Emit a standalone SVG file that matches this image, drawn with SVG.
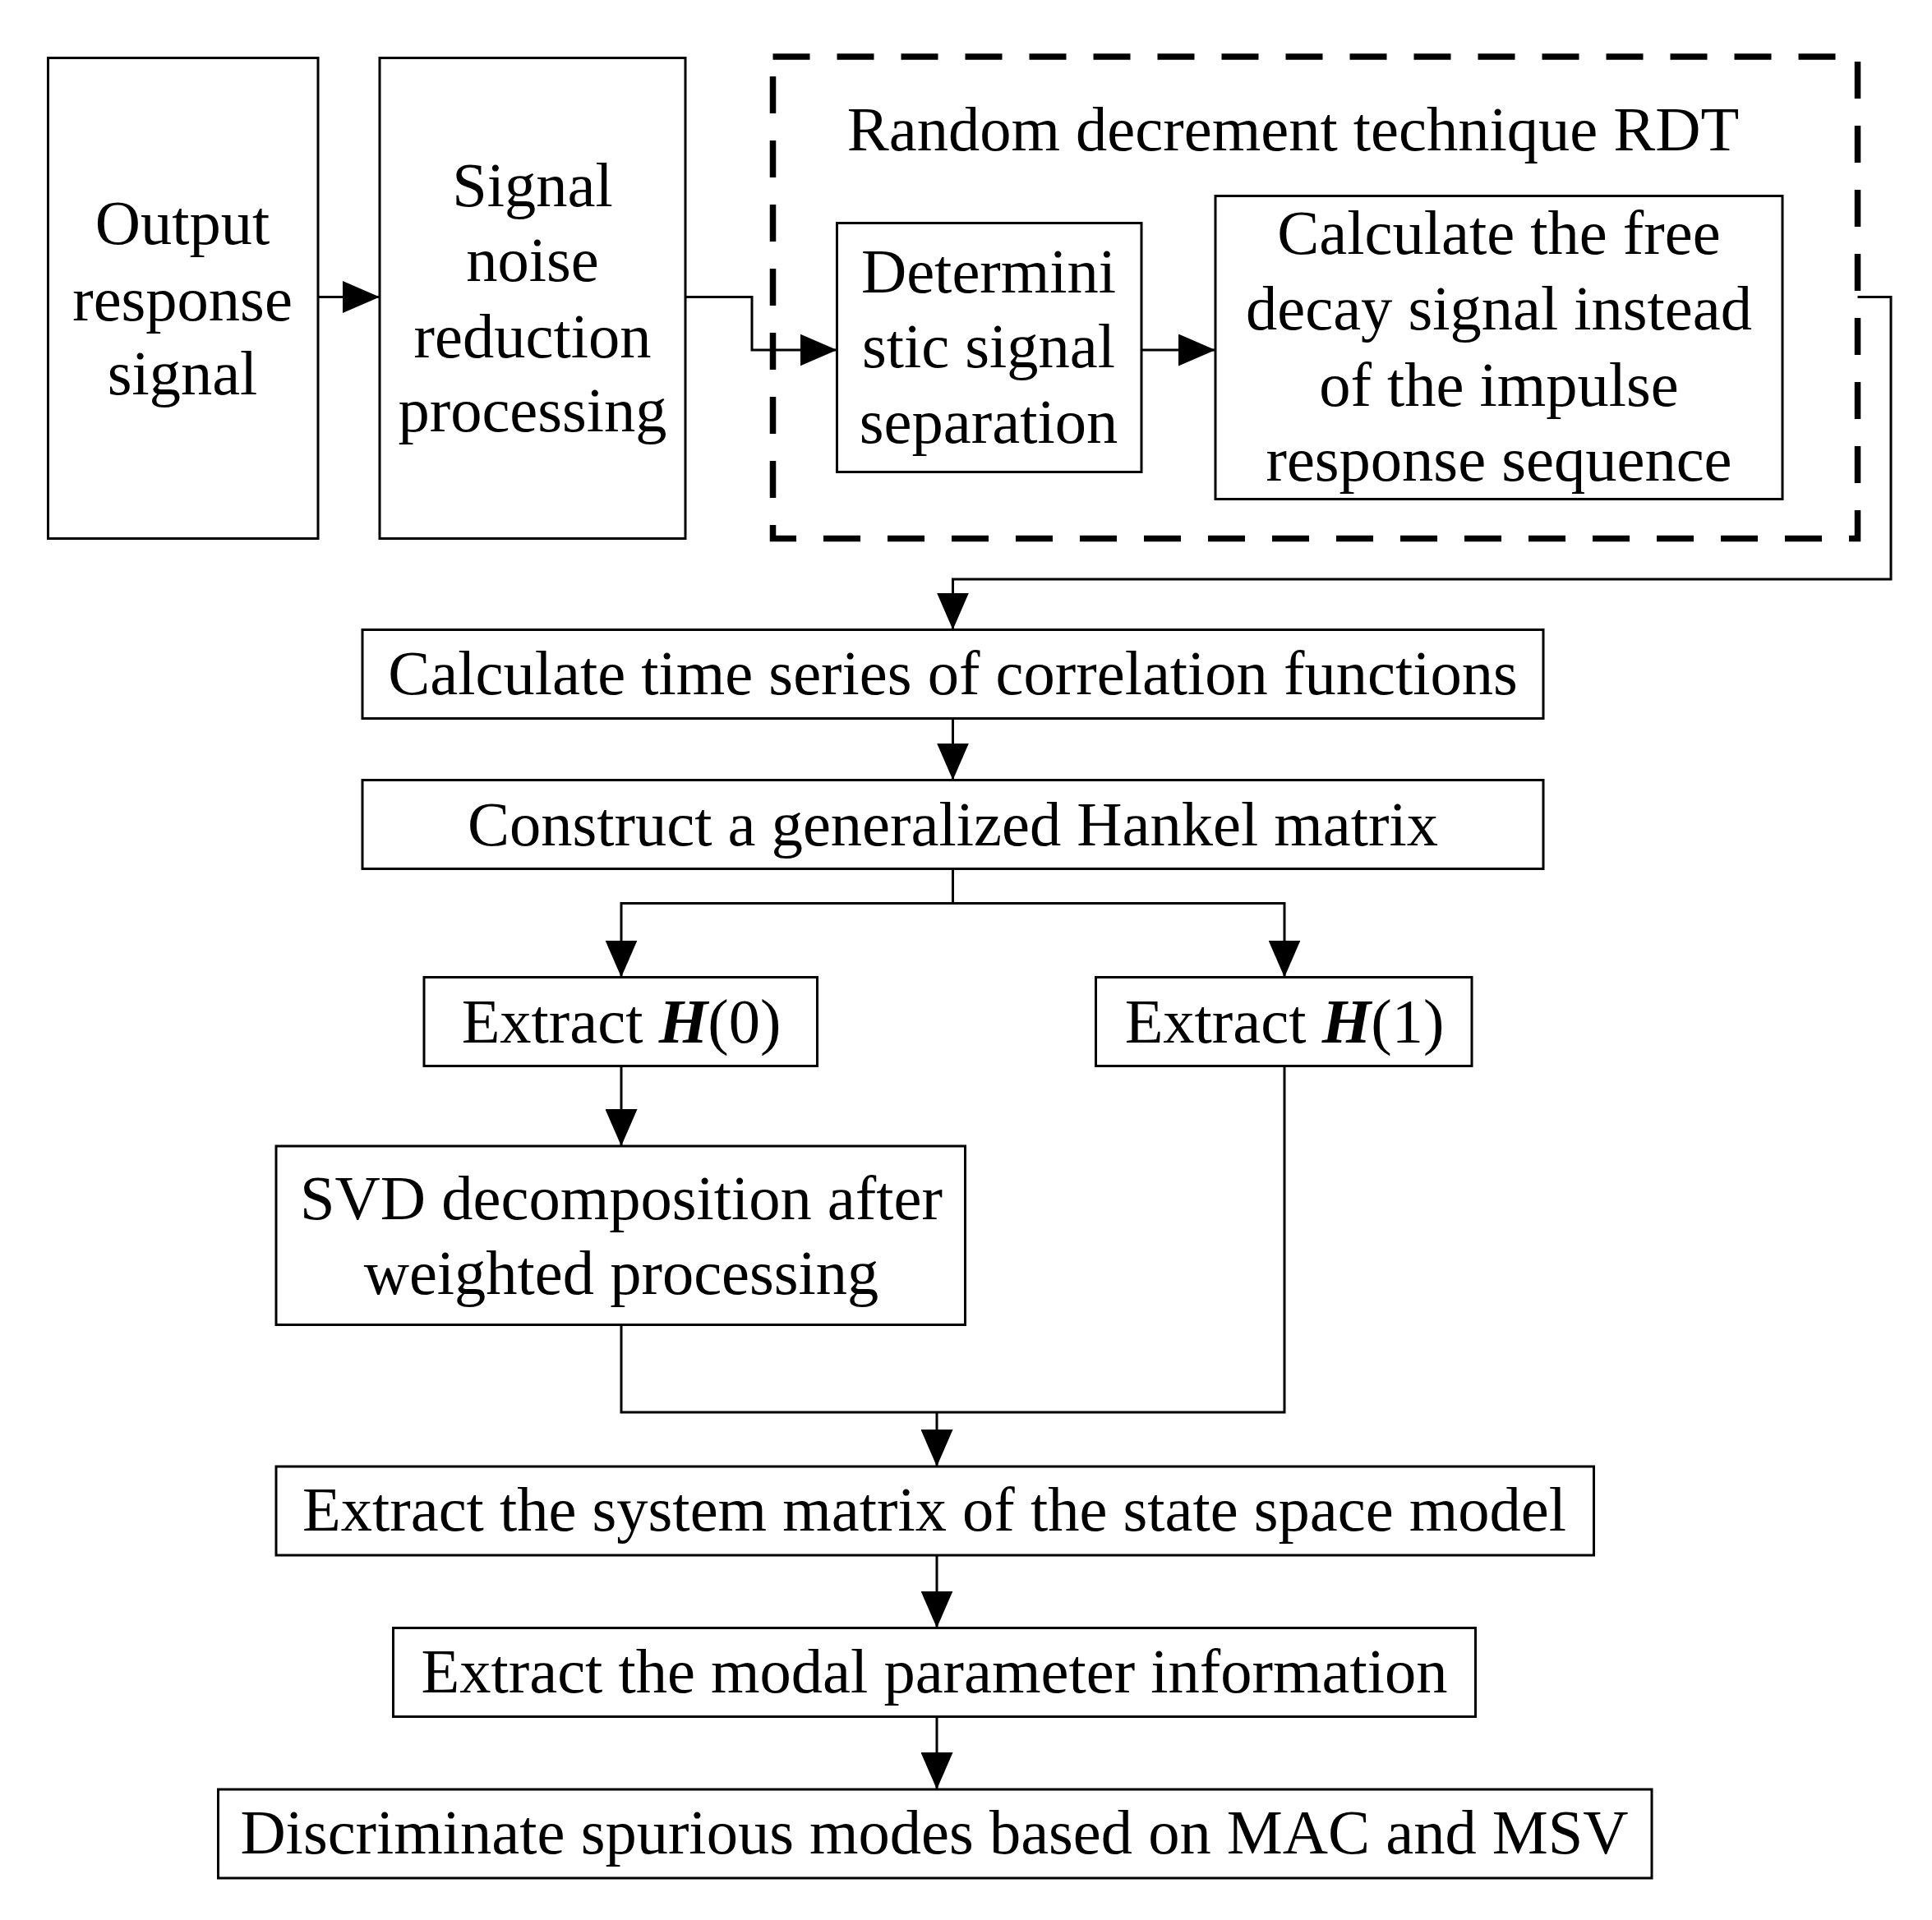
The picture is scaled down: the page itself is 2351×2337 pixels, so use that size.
<svg xmlns="http://www.w3.org/2000/svg" width="2351" height="2337" viewBox="0 0 2351 2337">
<defs>
<style>
.b{fill:#fff;stroke:#000;stroke-width:2}
.c{fill:none;stroke:#000;stroke-width:2}
text{font-family:"Liberation Serif","Times New Roman",serif;font-size:51px;text-anchor:middle;fill:#000}
</style>
<marker id="a" markerUnits="userSpaceOnUse" markerWidth="32" markerHeight="26" refX="30" refY="13" orient="auto"><path d="M0,0L30,13L0,26z" fill="#000"/></marker>
</defs>
<rect width="2351" height="2337" fill="#fff"/>
<g transform="scale(1.5)">
<g id="connectors">
<path class="c" d="M258,241H308" marker-end="url(#a)"/>
<path class="c" d="M556,241H610V284H679" marker-end="url(#a)"/>
<path class="c" d="M926,284H986" marker-end="url(#a)"/>
<path class="c" d="M1507,241H1534V470H773V511" marker-end="url(#a)"/>
<path class="c" d="M773,583V633" marker-end="url(#a)"/>
<path class="c" d="M773,705V733H504V793" marker-end="url(#a)"/>
<path class="c" d="M773,733H1042V793" marker-end="url(#a)"/>
<path class="c" d="M504,865V930" marker-end="url(#a)"/>
<path class="c" d="M504,1075V1146H1042V865"/>
<path class="c" d="M760,1146V1190" marker-end="url(#a)"/>
<path class="c" d="M760,1262V1321" marker-end="url(#a)"/>
<path class="c" d="M760,1393V1452" marker-end="url(#a)"/>
</g>
<g id="rdt"><rect x="627" y="46" width="880" height="391" fill="none" stroke="#000" stroke-width="5" stroke-dasharray="30,22"/>
<text x="1049" y="122">Random decrement technique RDT</text></g>
<g id="n1"><rect class="b" x="39" y="47" width="219" height="390"/><text x="148" y="198">Output</text><text x="148" y="260">response</text><text x="148" y="320">signal</text></g>
<g id="n2"><rect class="b" x="308" y="47" width="248" height="390"/><text x="432" y="167">Signal</text><text x="432" y="228">noise</text><text x="432" y="290">reduction</text><text x="432" y="350">processing</text></g>
<g id="n3"><rect class="b" x="679" y="181" width="247" height="202"/><text x="802" y="237">Determini</text><text x="802" y="298">stic signal</text><text x="802" y="359">separation</text></g>
<g id="n4"><rect class="b" x="986" y="159" width="460" height="246"/><text x="1216" y="206">Calculate the free</text><text x="1216" y="267">decay signal instead</text><text x="1216" y="329">of the impulse</text><text x="1216" y="390">response sequence</text></g>
<g id="n5"><rect class="b" x="294" y="511" width="958" height="72"/><text x="773" y="563">Calculate time series of correlation functions</text></g>
<g id="n6"><rect class="b" x="294" y="633" width="958" height="72"/><text x="773" y="686">Construct a generalized Hankel matrix</text></g>
<g id="n7"><rect class="b" x="344" y="793" width="319" height="72"/><text x="504" y="846">Extract <tspan font-weight="bold" font-style="italic">H</tspan>(0)</text></g>
<g id="n8"><rect class="b" x="889" y="793" width="305" height="72"/><text x="1042" y="846">Extract <tspan font-weight="bold" font-style="italic">H</tspan>(1)</text></g>
<g id="n9"><rect class="b" x="224" y="930" width="559" height="145"/><text x="504" y="989">SVD decomposition after</text><text x="504" y="1050">weighted processing</text></g>
<g id="n10"><rect class="b" x="224" y="1190" width="1069" height="72"/><text x="758" y="1242">Extract the system matrix of the state space model</text></g>
<g id="n11"><rect class="b" x="319" y="1321" width="878" height="72"/><text x="758" y="1373">Extract the modal parameter information</text></g>
<g id="n12"><rect class="b" x="177" y="1452" width="1163" height="72"/><text x="758" y="1504">Discriminate spurious modes based on MAC and MSV</text></g>
</g>
</svg>
